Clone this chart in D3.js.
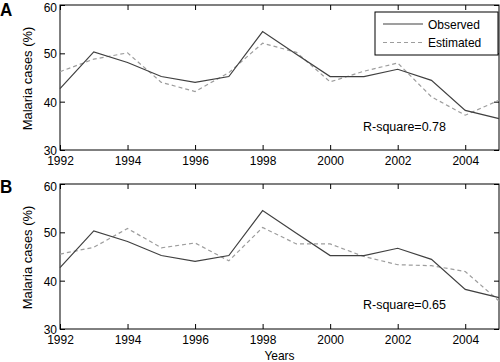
<!DOCTYPE html>
<html>
<head>
<meta charset="utf-8">
<script src="https://d3js.org/d3.v7.min.js"></script>
<style>
  body { margin: 0; background: #fff; }
  svg text { font-family: "Liberation Sans", Arial, sans-serif; }
</style>
</head>
<body>
<div id="chart"></div>
<script>
// Data
const years = [1992, 1993, 1994, 1995, 1996, 1997, 1998, 1999, 2000, 2001, 2002, 2003, 2004, 2005];
const observed = [42.7, 50.3, 48.1, 45.2, 44.0, 45.2, 54.5, 49.8, 45.2, 45.2, 46.7, 44.4, 38.2, 36.5];
const estimatedA = [46.2, 48.8, 50.1, 44.0, 42.1, 46.0, 52.1, 50.2, 44.1, 46.3, 48.0, 41.0, 37.2, 40.3];
const estimatedB = [45.5, 46.9, 50.8, 46.8, 47.8, 44.1, 51.0, 47.6, 47.6, 45.0, 43.3, 43.1, 41.9, 35.8];
const yTicks = [30, 40, 50, 60];
const xTicks = [1992, 1994, 1996, 1998, 2000, 2002, 2004];
const panels = [
  { label: "A", est: estimatedA, r2: "R-square=0.78", top: 5, legend: true, letterY: 15.5, r2Y: 131 },
  { label: "B", est: estimatedB, r2: "R-square=0.65", top: 184, legend: false, letterY: 193, r2Y: 309 }
];

const width = 500, height = 362;
const left = 60, right = 499, plotH = 145;
const sy = 1.08; // the source image text is slightly taller than wide

const svg = d3.select("#chart").append("svg")
  .attr("width", width)
  .attr("height", height);

// text helper with a small vertical stretch
function label(parent, x, y, str, size, opts = {}) {
  const t = parent.append("text")
    .attr("transform", `translate(${x},${y})${opts.rotate ? " rotate(-90)" : ""} scale(${opts.rotate ? sy : 1},${opts.rotate ? 1 : sy})`)
    .attr("font-size", size)
    .attr("text-anchor", opts.anchor || "start")
    .text(str);
  if (opts.bold) t.attr("font-weight", "bold");
  return t;
}

const x = d3.scaleLinear().domain([1992, 2005]).range([left, right]);

panels.forEach(p => {
  const y = d3.scaleLinear().domain([30, 60]).range([p.top + plotH, p.top]);
  const g = svg.append("g");
  const tick = 5;

  // inward ticks on all four sides
  g.append("g")
    .attr("transform", `translate(0,${p.top + plotH})`)
    .call(d3.axisBottom(x).tickValues(xTicks).tickFormat(d3.format("d")).tickSizeInner(-tick).tickSizeOuter(0).tickPadding(0))
    .call(a => a.select(".domain").remove())
    .call(a => a.selectAll(".tick text").attr("y", null).attr("dy", null)
      .attr("transform", `translate(0,14.5) scale(1,${sy})`));
  g.append("g")
    .attr("transform", `translate(0,${p.top})`)
    .call(d3.axisTop(x).tickValues(xTicks).tickFormat("").tickSizeInner(-tick).tickSizeOuter(0))
    .call(a => a.select(".domain").remove());
  g.append("g")
    .attr("transform", `translate(${left},0)`)
    .call(d3.axisLeft(y).tickValues(yTicks).tickSizeInner(-tick).tickSizeOuter(0).tickPadding(0))
    .call(a => a.select(".domain").remove())
    .call(a => a.selectAll(".tick text").attr("x", null).attr("dy", null)
      .attr("transform", d => `translate(-3,${d === 60 ? 6 : 4.6}) scale(1,${sy})`));
  g.append("g")
    .attr("transform", `translate(${right},0)`)
    .call(d3.axisRight(y).tickValues(yTicks).tickFormat("").tickSizeInner(-tick).tickSizeOuter(0))
    .call(a => a.select(".domain").remove());

  g.selectAll(".tick text").attr("font-size", 12).attr("fill", "#000")
    .attr("font-family", "'Liberation Sans', Arial, sans-serif");
  g.selectAll(".tick line").attr("stroke", "#000");

  g.append("rect")
    .attr("x", left).attr("y", p.top)
    .attr("width", right - left).attr("height", plotH)
    .attr("fill", "none").attr("stroke", "#000").attr("stroke-width", 1);

  const line = d3.line().x((d, i) => x(years[i])).y(d => y(d));

  g.append("path").datum(p.est)
    .attr("d", line).attr("fill", "none")
    .attr("stroke", "#9d9d9d").attr("stroke-width", 1.2)
    .attr("stroke-dasharray", "4,3");
  g.append("path").datum(observed)
    .attr("d", line).attr("fill", "none")
    .attr("stroke", "#404040").attr("stroke-width", 1.2);

  label(svg, 0, p.letterY, p.label, 17, { bold: true });
  label(svg, 31.5, p.top + plotH / 2 + 1, "Malaria cases (%)", 12, { rotate: true, anchor: "middle" });
  label(svg, 363, p.r2Y, p.r2, 12.5);

  if (p.legend) {
    const lg = g.append("g");
    lg.append("rect")
      .attr("x", 375).attr("y", 12)
      .attr("width", 123).attr("height", 43)
      .attr("fill", "#fff").attr("stroke", "#000");
    const items = [
      { name: "Observed", color: "#404040", dash: null },
      { name: "Estimated", color: "#9d9d9d", dash: "4,3" }
    ];
    items.forEach((it, i) => {
      const cy = 24 + i * 18.5;
      lg.append("line")
        .attr("x1", 383).attr("x2", 423)
        .attr("y1", cy).attr("y2", cy)
        .attr("stroke", it.color).attr("stroke-width", 1.2)
        .attr("stroke-dasharray", it.dash);
      label(lg, 428, cy + 4.7, it.name, 12);
    });
  }
});

label(svg, (left + right) / 2, 360, "Years", 12, { anchor: "middle" });
</script>
</body>
</html>
